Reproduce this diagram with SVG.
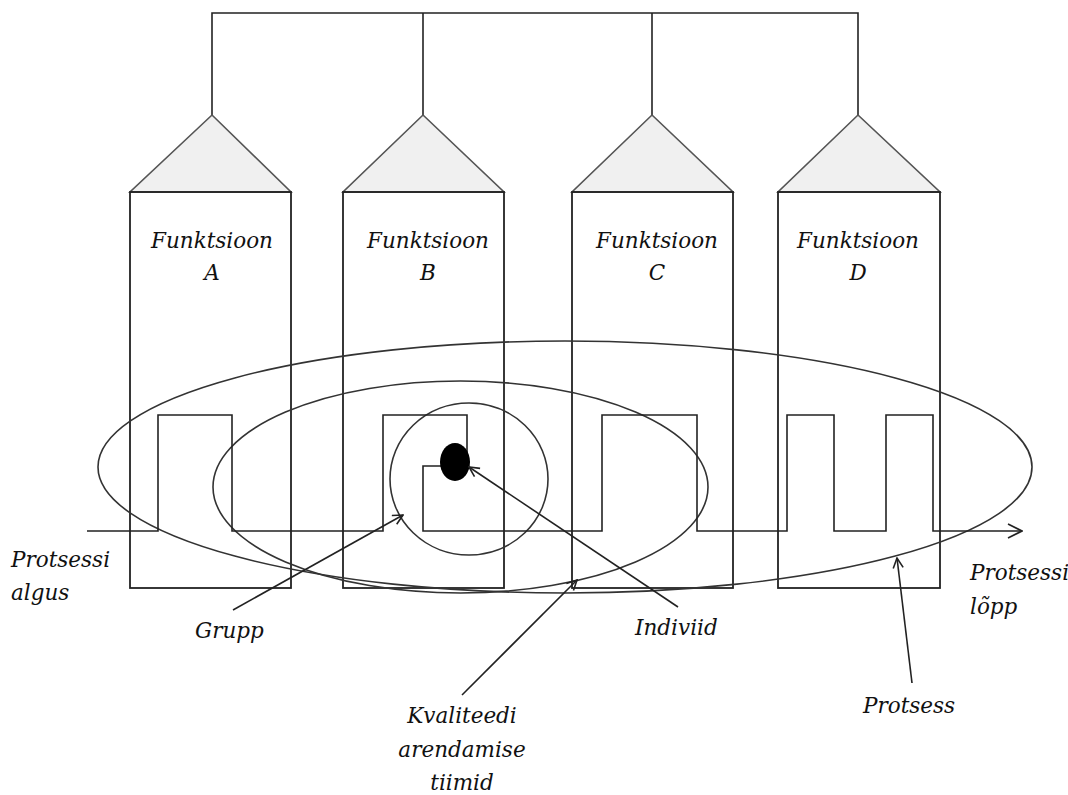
<svg xmlns="http://www.w3.org/2000/svg" width="1068" height="795" viewBox="0 0 1068 795">
<defs>
<style>
.ln{fill:none;stroke:#222;stroke-width:1.6}
.box{fill:none;stroke:#222;stroke-width:1.8}
.tri{fill:#f0f0f0;stroke:#555;stroke-width:1.6;stroke-linejoin:miter}
.ell{fill:none;stroke:#333;stroke-width:1.6}
.t{font-family:"DejaVu Serif","Liberation Serif",serif;font-style:italic;font-size:21.5px;fill:#111}
</style>
<marker id="ah" viewBox="0 0 12 12" refX="11" refY="6" markerWidth="12" markerHeight="12" markerUnits="userSpaceOnUse" orient="auto">
<path d="M1,1 L11,6 L1,11" fill="none" stroke="#222" stroke-width="1.6"/>
</marker>
<marker id="ah2" viewBox="0 0 16 16" refX="15" refY="8" markerWidth="16" markerHeight="16" markerUnits="userSpaceOnUse" orient="auto">
<path d="M1,1 L15,8 L1,15" fill="none" stroke="#222" stroke-width="1.6"/>
</marker>
</defs>
<rect width="1068" height="795" fill="#fff"/>

<g id="bus">
<path class="ln" d="M212,115 V13 H858 V115 M423,13 V115 M652,13 V115"/>
</g>

<g id="funktsioon-a">
<polygon class="tri" points="212,115 291,192 130,192"/>
<rect class="box" x="130" y="192" width="161" height="396"/>
<text class="t" x="212" y="248" text-anchor="middle">Funktsioon</text>
<text class="t" x="212" y="280" text-anchor="middle">A</text>
</g>
<g id="funktsioon-b">
<polygon class="tri" points="423,115 504,192 343,192"/>
<rect class="box" x="343" y="192" width="161" height="396"/>
<text class="t" x="428" y="248" text-anchor="middle">Funktsioon</text>
<text class="t" x="428" y="280" text-anchor="middle">B</text>
</g>
<g id="funktsioon-c">
<polygon class="tri" points="652,115 733,192 572,192"/>
<rect class="box" x="572" y="192" width="161" height="396"/>
<text class="t" x="657" y="248" text-anchor="middle">Funktsioon</text>
<text class="t" x="657" y="280" text-anchor="middle">C</text>
</g>
<g id="funktsioon-d">
<polygon class="tri" points="858,115 940,192 778,192"/>
<rect class="box" x="778" y="192" width="162" height="396"/>
<text class="t" x="858" y="248" text-anchor="middle">Funktsioon</text>
<text class="t" x="858" y="280" text-anchor="middle">D</text>
</g>

<g id="protsess">
<ellipse class="ell" cx="565" cy="467" rx="467" ry="126"/>
</g>
<g id="grupp">
<ellipse class="ell" cx="460.5" cy="487" rx="247.5" ry="106"/>
</g>
<g id="indiviid-ring">
<ellipse class="ell" cx="469" cy="479" rx="79" ry="76"/>
</g>

<g id="process-line">
<path class="ln" d="M87,531 H158 V415 H232 V531 H383 V415 H467 V460"/>
<path class="ln" d="M445,466 H423 V531 H602 V415 H697 V531 H787 V415 H834 V531 H886 V415 H933 V531 H1022" marker-end="url(#ah2)"/>
</g>
<g id="indiviid">
<ellipse cx="455" cy="462" rx="15" ry="19" fill="#000"/>
</g>

<g id="connectors">
<line class="ln" x1="233" y1="610" x2="403" y2="515" marker-end="url(#ah)"/>
<line class="ln" x1="678" y1="607" x2="469" y2="467" marker-end="url(#ah)"/>
<line class="ln" x1="462" y1="695" x2="577" y2="580" marker-end="url(#ah)"/>
<line class="ln" x1="912" y1="683" x2="897" y2="558" marker-end="url(#ah)"/>
</g>

<g id="labels">
<text class="t" x="11" y="567">Protsessi</text>
<text class="t" x="11" y="600">algus</text>
<text class="t" x="195" y="638">Grupp</text>
<text class="t" x="635" y="635">Indiviid</text>
<text class="t" x="970" y="580">Protsessi</text>
<text class="t" x="970" y="614">lõpp</text>
<text class="t" x="863" y="713">Protsess</text>
<text class="t" x="462" y="723" text-anchor="middle">Kvaliteedi</text>
<text class="t" x="462" y="757" text-anchor="middle">arendamise</text>
<text class="t" x="462" y="790" text-anchor="middle">tiimid</text>
</g>
</svg>
